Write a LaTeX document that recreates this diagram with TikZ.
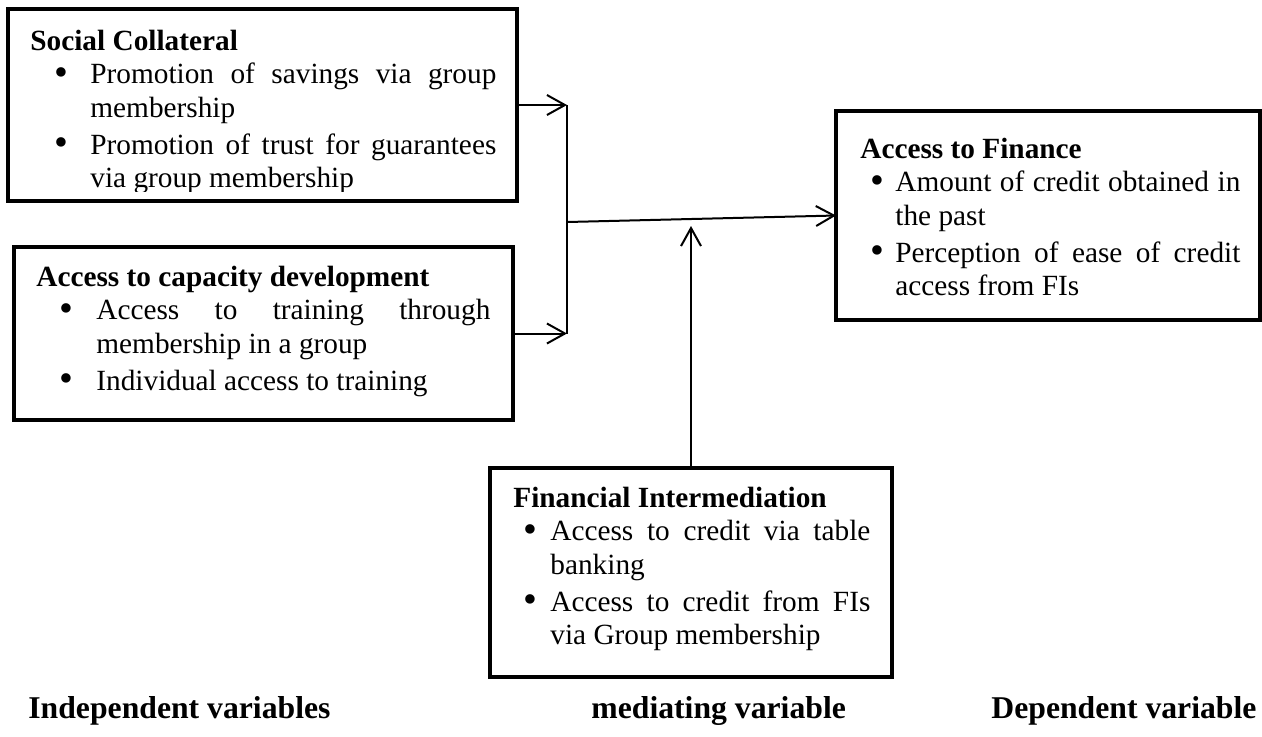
\documentclass[tikz,border=0pt]{standalone}
\usepackage{fontspec}
\setmainfont{Liberation Serif}
\usepackage{graphicx}
\usepackage{enumitem}
\usetikzlibrary{arrows.meta, positioning}
\newcommand{\boxfont}{\fontsize{14.65pt}{16.85pt}\selectfont}
\newcommand{\tagfont}{\fontsize{15.85pt}{18pt}\selectfont\bfseries}
\newcommand{\dotmark}{\raisebox{-0.9pt}{\scalebox{1.35}{\textbullet}}}
\hyphenpenalty=10000
\exhyphenpenalty=10000
\tolerance=9999
\hbadness=10000
\setlist[itemize]{label=\dotmark, topsep=0pt, partopsep=0pt, parsep=0pt, itemsep=1.5pt}
\tikzset{
	frame/.style={draw, line width=2.2pt, outer sep=0pt, inner sep=0pt, anchor=north west},
	body/.style={anchor=base west, inner sep=0pt, font=\boxfont, align=justify},
	tag/.style={anchor=base west, inner sep=0pt, font=\tagfont},
	link/.style={line width=1pt, -{Straight Barb[length=9pt,width=10pt,line width=1pt]}},
}

\begin{document}
\begin{tikzpicture}[x=0.5pt,y=-0.5pt]
		\useasboundingbox (0,0) rectangle (1262,736);
		\node[frame, minimum width=254.5pt, minimum height=96pt]   (social)   at (8,9) {};
		\node[frame, minimum width=249.5pt, minimum height=86.5pt] (capacity) at (14,247) {};
		\node[frame, minimum width=212pt,   minimum height=104.5pt] (finance) at (836,111) {};
		\node[frame, minimum width=201pt,   minimum height=104.5pt] (interm)  at (490,468) {};
		\begin{scope}
			\clip (8,9) rectangle (517,191);
			\node[body, text width=233pt] (socialtxt) at (30,50) {\textbf{Social Collateral}
				\begin{itemize}[leftmargin=30pt, labelsep=11pt]
					\item Promotion of savings via group membership
					\item Promotion of trust for guarantees via group membership
				\end{itemize}};
		\end{scope}
		\node[body, text width=227pt] (capacitytxt) at (36,286) {\textbf{Access to capacity development}
			\begin{itemize}[leftmargin=30pt, labelsep=11.5pt]
				\item Access to training through membership in a group
				\item Individual access to training
			\end{itemize}};
		\node[body, text width=190pt] (financetxt) at (860,158) {\textbf{Access to Finance}
			\begin{itemize}[leftmargin=17.5pt, labelsep=5.5pt]
				\item Amount of credit obtained in the past
				\item Perception of ease of credit access from FIs
			\end{itemize}};
		\node[body, text width=178.5pt] (intermtxt) at (513,507) {\textbf{Financial Intermediation}
			\begin{itemize}[leftmargin=18.5pt, labelsep=6.5pt]
				\item Access to credit via table banking
				\item Access to credit from FIs via Group membership
			\end{itemize}};
		\coordinate (spine) at (567,0);
		\coordinate (mid)   at (567,222);
		\coordinate (hit)   at (691,226);
		\draw[link] (social.east) -- (social.east -| spine);
		\draw[link] (capacity.east) -- (capacity.east -| spine);
		\draw[line width=1pt] (social.east -| spine) -- (capacity.east -| spine);
		\draw[link] (mid) -- (finance.west);
		\draw[link] (interm.north) -- (hit);
		\foreach \n/\x/\t in {indep/28/Independent variables, mediat/591/mediating variable, depend/991/Dependent variable}
		{
			\node[tag] (\n) at (\x,718) {\t};
		}
	\end{tikzpicture}
\end{document}
